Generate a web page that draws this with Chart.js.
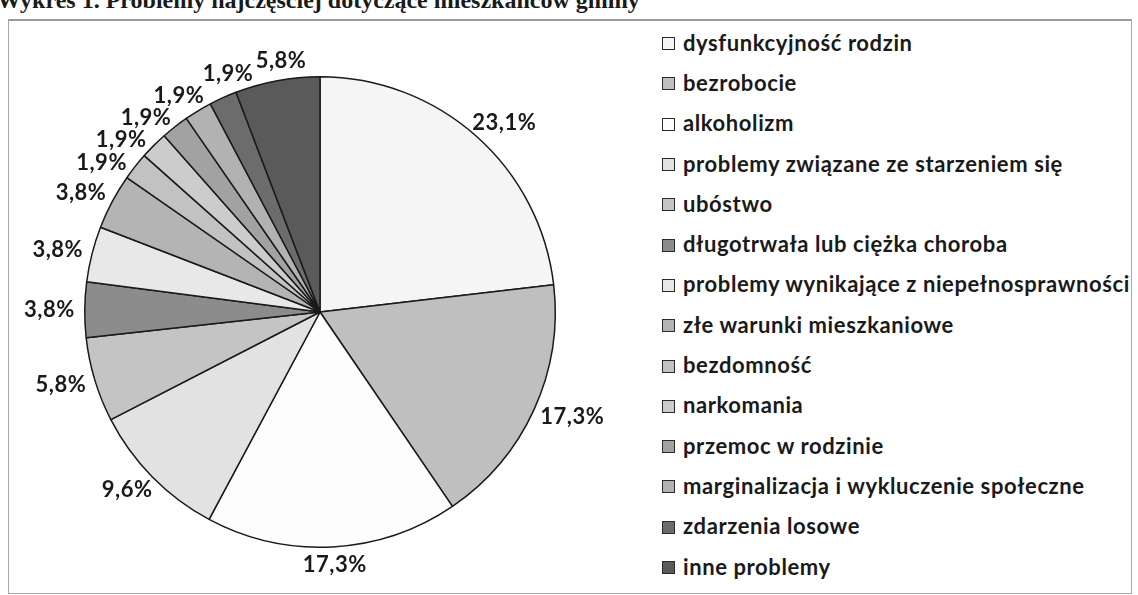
<!DOCTYPE html>
<html lang="pl">
<head>
<meta charset="utf-8">
<title>Wykres 1</title>
<script src="https://cdn.jsdelivr.net/npm/chart.js@4/dist/chart.umd.min.js"></script>
<style>
  body { margin: 0; width: 1138px; height: 595px; background: #fff; position: relative; overflow: hidden; }
  #tytul { position: absolute; left: -3px; top: -13px; font: bold 24px "Liberation Serif", serif; color: #1a1a1a; white-space: nowrap; }
  #ramka { position: absolute; left: 8px; top: 19px; width: 1122px; height: 572px; border: 1px solid #a8a8a8; border-top: 2px solid #9a9a9a; }
  #wykres { position: absolute; left: 10px; top: 22px; width: 620px; height: 568px; }
  #legenda { position: absolute; left: 662px; top: 22px; font: bold 22px Lato, sans-serif; letter-spacing: 0.6px; color: #1a1a1a; }
  .poz { height: 40.3px; display: flex; align-items: center; white-space: nowrap; }
  .kw { width: 11px; height: 11px; border: 1px solid #2a2a2a; margin-top: 3px; margin-right: 8px; flex: none; }
</style>
</head>
<body>
<div id="tytul">Wykres 1. Problemy najczęściej dotyczące mieszkańców gminy</div>
<div id="ramka"></div>
<div id="wykres"><canvas id="pieChart"></canvas></div>
<div id="legenda"></div>
<script>
// kategorie i wartosci (w %)
const kategorie = [
    'dysfunkcyjność rodzin',
    'bezrobocie',
    'alkoholizm',
    'problemy związane ze starzeniem się',
    'ubóstwo',
    'długotrwała lub ciężka choroba',
    'problemy wynikające z niepełnosprawności',
    'złe warunki mieszkaniowe',
    'bezdomność',
    'narkomania',
    'przemoc w rodzinie',
    'marginalizacja i wykluczenie społeczne',
    'zdarzenia losowe',
    'inne problemy'
];
const wartosci = [23.1, 17.3, 17.3, 9.6, 5.8, 3.8, 3.8, 3.8, 1.9, 1.9, 1.9, 1.9, 1.9, 5.8];
const kolory = ['#f5f5f5', '#bfbfbf', '#fdfdfd', '#e2e2e2', '#c4c4c4', '#8c8c8c', '#e8e8e8',
                '#b4b4b4', '#c2c2c2', '#cccccc', '#a2a2a2', '#b2b2b2', '#6c6c6c', '#5a5a5a'];

// etykiety procentowe na zewnatrz kola (z prostym rozsuwaniem nachodzacych)
const etykiety = {
    id: 'etykiety',
    afterDatasetsDraw(chart) {
        const ctx = chart.ctx;
        const meta = chart.getDatasetMeta(0);
        ctx.save();
        ctx.font = 'bold 22px Lato, sans-serif';
        ctx.letterSpacing = '0.5px';
        ctx.fillStyle = '#1a1a1a';
        ctx.textAlign = 'center';
        ctx.textBaseline = 'middle';
        const h = 16;
        const lab = meta.data.map((arc, i) => {
            const p = arc.getProps(['x', 'y', 'startAngle', 'endAngle', 'outerRadius'], true);
            const tekst = wartosci[i].toFixed(1).replace('.', ',') + '%';
            return { p, tekst, w: ctx.measureText(tekst).width, kat: (p.startAngle + p.endAngle) / 2 };
        });
        const pozycja = (l) => {
            const dx = Math.cos(l.kat), dy = Math.sin(l.kat);
            const r = l.p.outerRadius + 10;
            return { x: l.p.x + dx * r + dx * l.w / 2, y: l.p.y + dy * r + dy * h / 2 };
        };
        for (let it = 0; it < 400; it++) {
            let ruch = false;
            for (let i = 0; i < lab.length - 1; i++) {
                const a = pozycja(lab[i]), b = pozycja(lab[i + 1]);
                if (Math.abs(a.x - b.x) < (lab[i].w + lab[i + 1].w) / 2 + 2 &&
                    Math.abs(a.y - b.y) < h + 6) {
                    lab[i].kat -= 0.002;
                    lab[i + 1].kat += 0.002;
                    ruch = true;
                }
            }
            if (!ruch) break;
        }
        lab.forEach(l => {
            const q = pozycja(l);
            ctx.fillText(l.tekst, q.x, q.y);
        });
        ctx.restore();
    }
};

new Chart(document.getElementById('pieChart'), {
    type: 'pie',
    data: {
        labels: kategorie,
        datasets: [{
            data: wartosci,
            backgroundColor: kolory,
            borderColor: '#1a1a1a',
            borderWidth: 1.5
        }]
    },
    options: {
        responsive: true,
        maintainAspectRatio: false,
        animation: false,
        layout: { padding: { left: 74, right: 74, top: 54, bottom: 42 } },
        plugins: {
            legend: { display: false },
            tooltip: { enabled: false }
        }
    },
    plugins: [etykiety]
});

// legenda w HTML
const leg = document.getElementById('legenda');
kategorie.forEach((k, i) => {
    const d = document.createElement('div');
    d.className = 'poz';
    d.innerHTML = '<span class="kw" style="background:' + kolory[i] + '"></span><span>' + k + '</span>';
    leg.appendChild(d);
});
</script>
</body>
</html>
